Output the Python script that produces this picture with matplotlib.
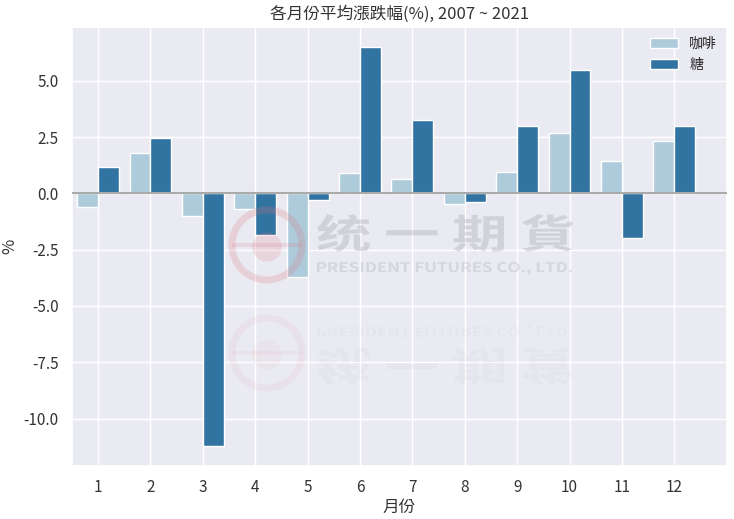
import numpy as np
import matplotlib
matplotlib.use("Agg")
import matplotlib.pyplot as plt
import matplotlib.transforms as mtransforms
from matplotlib.patches import Circle, PathPatch, Rectangle
from matplotlib.textpath import TextPath
from matplotlib.font_manager import FontProperties
import seaborn as sns

sns.set_theme(style="darkgrid")
plt.rcParams['font.family'] = ['Noto Sans CJK TC', 'DejaVu Sans']
plt.rcParams['axes.unicode_minus'] = False

months = np.arange(1, 13)
month_labels = [str(m) for m in months]
coffee = [-0.61, 1.78, -1.02, -0.71, -3.73, 0.92, 0.62, -0.49, 0.93, 2.70, 1.42, 2.31]
sugar = [1.19, 2.46, -11.22, -1.83, -0.31, 6.50, 3.26, -0.38, 2.98, 5.46, -1.98, 3.00]
series_names = ['咖啡', '糖']
yticks = [-10.0, -7.5, -5.0, -2.5, 0.0, 2.5, 5.0]

c_light = '#aecbdb'
c_dark = '#3274a1'

fig = plt.figure(figsize=(7.34, 5.19), dpi=100)
ax = fig.add_axes([0.098, 0.102, 0.892, 0.846])

w = 0.4
ax.bar(months - w, coffee, width=w, align='edge', color=c_light,
       edgecolor='white', linewidth=1, label=series_names[0], zorder=2)
ax.bar(months, sugar, width=w, align='edge', color=c_dark,
       edgecolor='white', linewidth=1, label=series_names[1], zorder=2)
ax.axhline(0, color='#aaaaaa', linewidth=1.5, zorder=3)

ax.set_xlim(0.5, 13.0)
ax.set_xticks(months)
ax.set_xticklabels(month_labels)
ax.set_yticks(yticks)
ax.set_yticklabels([f'{v:.1f}' for v in yticks])
ax.tick_params(labelsize=11, colors='#333333')
ax.set_title('各月份平均漲跌幅(%), 2007 ~ 2021', fontsize=12, color='#333333', pad=6)
ax.set_xlabel('月份', fontsize=12, color='#333333', labelpad=2)
ax.set_ylabel('%', fontsize=12, color='#333333')
ax.legend(loc='upper right', frameon=False, fontsize=10,
          handlelength=2.0, borderaxespad=0.3)

# watermark (drawn in display pixels, origin bottom-left)
H = 519
ident = mtransforms.IdentityTransform()


def text_patch(s, x0, x1, ytop, ybot, weight, color, alpha, flip=False, axis=None):
    tp = TextPath((0, 0), s, size=40,
                  prop=FontProperties(family='Noto Sans CJK SC', weight=weight))
    ext = tp.get_extents()
    sx = (x1 - x0) / ext.width
    sy = (ybot - ytop) / ext.height
    tr = mtransforms.Affine2D().translate(-ext.x0, -ext.y0).scale(sx, sy)
    tr = tr.translate(x0, H - ybot)
    if flip:
        tr = tr + mtransforms.Affine2D().translate(0, -(H - axis)).scale(1, -1).translate(0, H - axis)
    p = PathPatch(tr.transform_path(tp), facecolor=color, edgecolor='none',
                  alpha=alpha, transform=ident, zorder=10)
    fig.add_artist(p)


def logo(cx, cy, r, alpha):
    fig.add_artist(Circle((cx, H - cy), r, fill=False, edgecolor='#e0707f',
                          linewidth=5, alpha=alpha, transform=ident, zorder=10))
    fig.add_artist(Circle((cx, H - cy - 2), r * 0.42, facecolor='#e0707f',
                          edgecolor='none', alpha=alpha * 0.8, transform=ident, zorder=10))
    fig.add_artist(Rectangle((cx - r, H - cy - 2), 2 * r, 4, facecolor='#e0707f',
                             edgecolor='none', alpha=alpha * 0.8, transform=ident, zorder=10))


logo(267, 245, 35, 0.22)
text_patch('统 一 期 貨', 317, 573, 214, 252, 'bold', '#9a9aa2', 0.3)
text_patch('PRESIDENT FUTURES CO., LTD.', 317, 572, 262, 275, 'bold', '#9a9aa2', 0.25)

axis_y = 299.5
logo(267, 353, 35, 0.07)
text_patch('统 一 期 貨', 317, 573, 214, 252, 'bold', '#9a9aa2', 0.06, flip=True, axis=axis_y)
text_patch('PRESIDENT FUTURES CO., LTD.', 317, 572, 262, 275, 'bold', '#9a9aa2', 0.06, flip=True, axis=axis_y)

fig.savefig('out.png', dpi=100)
